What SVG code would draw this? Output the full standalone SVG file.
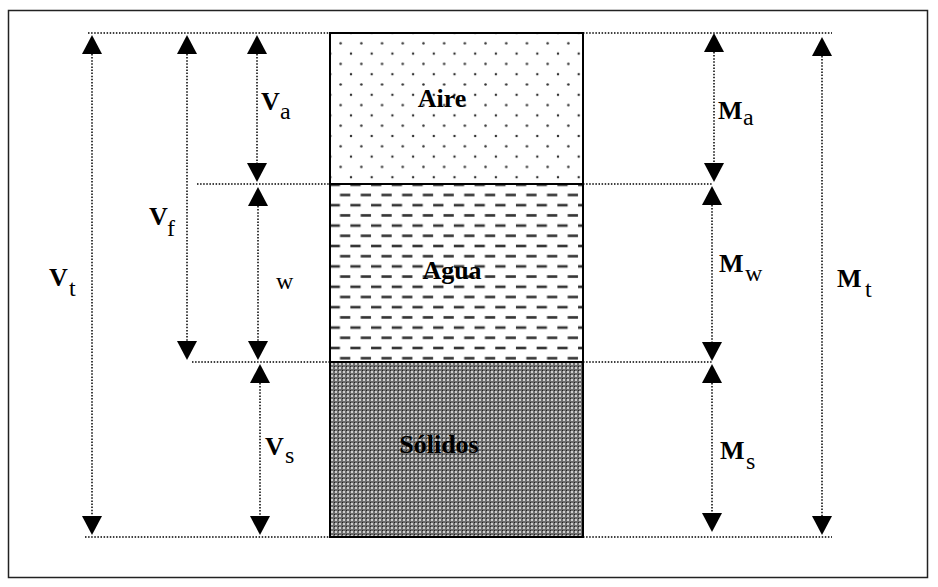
<svg xmlns="http://www.w3.org/2000/svg" width="938" height="587" viewBox="0 0 938 587">
  <style>
    .dim { stroke: #000; stroke-width: 1.5; stroke-dasharray: 1.5 1.6; fill: none; }
    .head { fill: #000; }
    .sym { font-family: "Liberation Serif", "Times New Roman", serif; font-size: 26px; font-weight: bold; fill: #000; }
    .sub { font-family: "Liberation Serif", "Times New Roman", serif; font-size: 24px; fill: #000; }
    .phase { font-family: "Liberation Serif", "Times New Roman", serif; font-size: 26px; font-weight: bold; fill: #000; text-anchor: middle; }
    .edge { fill: none; stroke: #000; stroke-width: 2; }
    .dot { fill: #333; }
  </style>
  <defs>
    <!-- staggered dots for the air phase -->
    <pattern id="dots" patternUnits="userSpaceOnUse" x="330.3" y="33" width="20.7" height="20.6">
      <circle class="dot" cx="0" cy="0" r="1.25"/>
      <circle class="dot" cx="20.7" cy="0" r="1.25"/>
      <circle class="dot" cx="0" cy="20.6" r="1.25"/>
      <circle class="dot" cx="20.7" cy="20.6" r="1.25"/>
      <circle class="dot" cx="10.35" cy="10.3" r="1.25"/>
    </pattern>
    <!-- staggered dashes for the water phase -->
    <pattern id="dashes" patternUnits="userSpaceOnUse" x="329.65" y="184.8" width="20.7" height="20.4">
      <rect x="0" y="-1.3" width="10.3" height="2.6" fill="#333"/>
      <rect x="0" y="19.1" width="10.3" height="2.6" fill="#333"/>
      <rect x="10.35" y="8.9" width="10.3" height="2.6" fill="#333"/>
    </pattern>
    <!-- fine checker for the solid phase -->
    <pattern id="checker" patternUnits="userSpaceOnUse" x="330" y="362" width="4" height="4">
      <rect x="0" y="0" width="4" height="4" fill="#6c6c6c"/>
      <rect x="1" y="1" width="2" height="2" fill="#cfcfcf"/>
      <rect x="0" y="0" width="1" height="1" fill="#222"/>
    </pattern>
    <path id="up" d="M0,0 L10,19 L-10,19 Z"/>
    <path id="down" d="M0,0 L10,-19 L-10,-19 Z"/>
  </defs>

  <rect x="0" y="0" width="938" height="587" fill="#fff"/>
  <rect x="8.5" y="10.5" width="919" height="567" fill="none" stroke="#222" stroke-width="1.5"/>

  <!-- soil column -->
  <g id="aire">
    <rect x="330" y="33" width="253" height="151" fill="url(#dots)"/>
    <rect x="330" y="33" width="253" height="151" class="edge"/>
    <text class="phase" x="442" y="107">Aire</text>
  </g>
  <g id="agua">
    <rect x="330" y="184" width="253" height="178" fill="url(#dashes)"/>
    <rect x="330" y="184" width="253" height="178" class="edge"/>
    <text class="phase" x="452" y="279">Agua</text>
  </g>
  <g id="solidos">
    <rect x="330" y="362" width="253" height="175" fill="url(#checker)"/>
    <rect x="330" y="362" width="253" height="175" class="edge"/>
    <text class="phase" x="439" y="453">Sólidos</text>
  </g>

  <!-- dimension lines -->
  <g id="connectors">
    <!-- horizontal extension lines -->
    <line class="dim" x1="88" y1="33" x2="330" y2="33"/>
    <line class="dim" x1="583" y1="33" x2="832" y2="33"/>
    <line class="dim" x1="197" y1="184" x2="330" y2="184"/>
    <line class="dim" x1="583" y1="184" x2="712" y2="184"/>
    <line class="dim" x1="192" y1="362" x2="330" y2="362"/>
    <line class="dim" x1="583" y1="362" x2="712" y2="362"/>
    <line class="dim" x1="85" y1="537" x2="330" y2="537"/>
    <line class="dim" x1="583" y1="537" x2="832" y2="537"/>

    <!-- Vt -->
    <line class="dim" x1="92" y1="54" x2="92" y2="516"/>
    <use href="#up" class="head" x="92" y="35"/>
    <use href="#down" class="head" x="92" y="535"/>
    <!-- Vf -->
    <line class="dim" x1="187" y1="54" x2="187" y2="341"/>
    <use href="#up" class="head" x="187" y="35"/>
    <use href="#down" class="head" x="187" y="360"/>
    <!-- Va -->
    <line class="dim" x1="257" y1="54" x2="257" y2="163"/>
    <use href="#up" class="head" x="257" y="35"/>
    <use href="#down" class="head" x="257" y="182"/>
    <!-- w -->
    <line class="dim" x1="258" y1="206" x2="258" y2="341"/>
    <use href="#up" class="head" x="258" y="187"/>
    <use href="#down" class="head" x="258" y="360"/>
    <!-- Vs -->
    <line class="dim" x1="260" y1="383" x2="260" y2="516"/>
    <use href="#up" class="head" x="260" y="364"/>
    <use href="#down" class="head" x="260" y="535"/>

    <!-- Ma -->
    <line class="dim" x1="714" y1="52" x2="714" y2="163"/>
    <use href="#up" class="head" x="714" y="33"/>
    <use href="#down" class="head" x="714" y="182"/>
    <!-- Mw -->
    <line class="dim" x1="712" y1="205" x2="712" y2="342"/>
    <use href="#up" class="head" x="712" y="186"/>
    <use href="#down" class="head" x="712" y="361"/>
    <!-- Ms -->
    <line class="dim" x1="712" y1="383" x2="712" y2="513"/>
    <use href="#up" class="head" x="712" y="364"/>
    <use href="#down" class="head" x="712" y="532"/>
    <!-- Mt -->
    <line class="dim" x1="822" y1="56" x2="822" y2="516"/>
    <use href="#up" class="head" x="822" y="37"/>
    <use href="#down" class="head" x="822" y="535"/>
  </g>

  <!-- dimension labels -->
  <g id="labels">
    <text class="sym" x="49" y="286">V</text><text class="sub" x="69" y="296">t</text>
    <text class="sym" x="149" y="225">V</text><text class="sub" x="167" y="236">f</text>
    <text class="sym" x="261" y="110">V</text><text class="sub" x="280" y="119">a</text>
    <text class="sub" x="276" y="289">w</text>
    <text class="sym" x="265" y="455">V</text><text class="sub" x="285" y="463">s</text>
    <text class="sym" x="718" y="119">M</text><text class="sub" x="743" y="125">a</text>
    <text class="sym" x="719" y="272">M</text><text class="sub" x="745" y="281">w</text>
    <text class="sym" x="720" y="459">M</text><text class="sub" x="746" y="469">s</text>
    <text class="sym" x="837" y="287">M</text><text class="sub" x="865" y="297">t</text>
  </g>
</svg>
